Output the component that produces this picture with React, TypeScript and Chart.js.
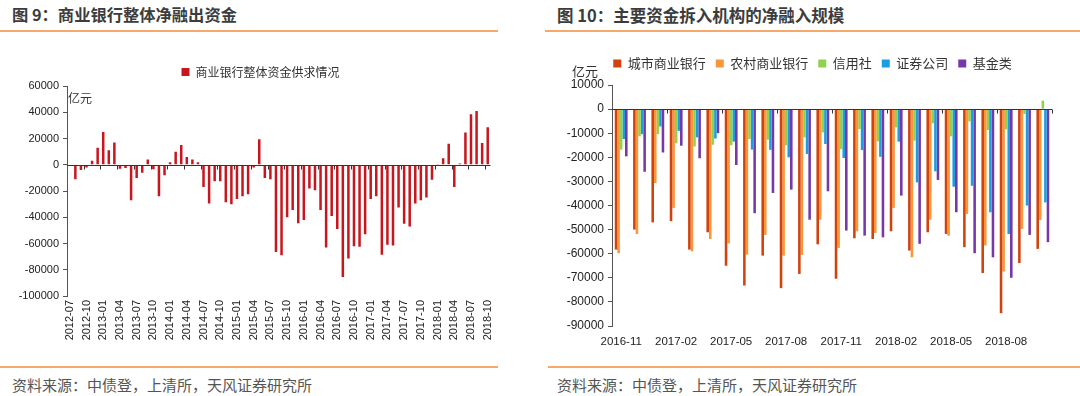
import React, { useEffect, useRef } from "react";
import { Chart, registerables } from "chart.js";
Chart.register(...registerables);

const CJK = "'Noto Sans CJK SC', 'Noto Sans', sans-serif";
const NUM = "'Liberation Sans', Arial, sans-serif";

// ---- Figure 9 data ----
const leftMonths = [
  "2012-07","2012-08","2012-09","2012-10","2012-11","2012-12",
  "2013-01","2013-02","2013-03","2013-04","2013-05","2013-06","2013-07","2013-08","2013-09","2013-10","2013-11","2013-12",
  "2014-01","2014-02","2014-03","2014-04","2014-05","2014-06","2014-07","2014-08","2014-09","2014-10","2014-11","2014-12",
  "2015-01","2015-02","2015-03","2015-04","2015-05","2015-06","2015-07","2015-08","2015-09","2015-10","2015-11","2015-12",
  "2016-01","2016-02","2016-03","2016-04","2016-05","2016-06","2016-07","2016-08","2016-09","2016-10","2016-11","2016-12",
  "2017-01","2017-02","2017-03","2017-04","2017-05","2017-06","2017-07","2017-08","2017-09","2017-10","2017-11","2017-12",
  "2018-01","2018-02","2018-03","2018-04","2018-05","2018-06","2018-07","2018-08","2018-09","2018-10",
];
const leftValues = [
  -1000, -11000, -4000, -2000, 3000, 13000,
  25000, 11000, 17000, -3000, -2500, -27000, -10000, -6000, 4000, -3500, -24000, -8000,
  2000, 10000, 15000, 6000, 4000, 2000, -17000, -29500, -12500, -12500, -28500, -30000,
  -26000, -24000, -22500, -2000, 19500, -10000, -11000, -66500, -69000, -40000, -34500, -44500,
  -42000, -18000, -19500, -34500, -63000, -39000, -49000, -85500, -71500, -62000, -62500, -53000,
  -26000, -24000, -68500, -61000, -61500, -32500, -45000, -47000, -29500, -27000, -25000, -11500,
  500, 5000, 16000, -17000, 1000, 24500, 38500, 41000, 16500, 28500,
];
const leftSeriesName = "商业银行整体资金供求情况";

// ---- Figure 10 data ----
const rightMonths = [
  "2016-11","2016-12","2017-01","2017-02","2017-03","2017-04","2017-05","2017-06","2017-07","2017-08","2017-09","2017-10",
  "2017-11","2017-12","2018-01","2018-02","2018-03","2018-04","2018-05","2018-06","2018-07","2018-08","2018-09","2018-10",
];
const cityBanks = [-58300,-50000,-47000,-46500,-58300,-51100,-65000,-73200,-60800,-74300,-68400,-56100,-70400,-53600,-53900,-50700,-58700,-51100,-51800,-57300,-68000,-84700,-63900,-58000];
const ruralBanks = [-59800,-51800,-30700,-41000,-59000,-53900,-55700,-60400,-52200,-60800,-60500,-45900,-57600,-50700,-51400,-41000,-61500,-45900,-52500,-43500,-56600,-67400,-49700,-46000];
const creditCoops = [-16800,-11300,-10400,-14200,-15500,-14800,-15000,-12400,-12700,-15000,-11700,-9700,-16600,-8300,-13400,-7600,-13100,-5900,-11300,-5100,-8700,-8400,-2000,3500];
const securities = [-12400,-10400,-7200,-9000,-11700,-12200,-13500,-16800,-16900,-20000,-18600,-14500,-20300,-17000,-19800,-13500,-30400,-25800,-32200,-31800,-42800,-51800,-40000,-38700];
const funds = [-19600,-26000,-18000,-15200,-20400,-10000,-23200,-43200,-34800,-33400,-45900,-34100,-50400,-52500,-53200,-35900,-55900,-29400,-42800,-59800,-61500,-70000,-52200,-55200];
const rightSeriesNames = ["城市商业银行", "农村商业银行", "信用社", "证券公司", "基金类"];
const rightColors = ["#D0430C", "#F7963B", "#92D050", "#1C9DE0", "#7538A6"];

const zeroAxis = (every: number) => ({
  id: "zeroAxis",
  afterDatasetsDraw(chart: any) {
    const x = chart.scales.x, y = chart.scales.y;
    const { ctx, chartArea } = chart;
    const zy = Math.round(y.getPixelForValue(0)) + 0.5;
    const n = chart.data.labels.length;
    const half = (x.getPixelForValue(1) - x.getPixelForValue(0)) / 2;
    ctx.save();
    ctx.strokeStyle = "#333";
    ctx.lineWidth = 1;
    ctx.beginPath();
    ctx.moveTo(chartArea.left, zy);
    ctx.lineTo(chartArea.right, zy);
    for (let i = every; i <= n; i += every) {
      const px = Math.round(x.getPixelForValue(i) - half) + 0.5;
      ctx.moveTo(px, zy);
      ctx.lineTo(px, zy + 4);
    }
    ctx.stroke();
    ctx.restore();
  },
});

const unitLabel = (text: string, dx: number, dy: number, size: number) => ({
  id: "unitLabel",
  afterDraw(chart: any) {
    const { ctx, chartArea } = chart;
    ctx.save();
    ctx.font = `${size}px ${CJK}`;
    ctx.fillStyle = "#333";
    ctx.textAlign = "left";
    ctx.textBaseline = "middle";
    ctx.fillText(text, chartArea.left + dx, chartArea.top + dy);
    ctx.restore();
  },
});

// moves the drawn legend by (dx, dy) without changing the layout
const legendShift = (dx: number, dy: number) => ({
  id: "legendShift",
  afterLayout(chart: any) {
    const lg = chart.legend;
    if (lg && !lg.__shifted) {
      const orig = lg.draw.bind(lg);
      lg.draw = (...args: any[]) => {
        chart.ctx.save();
        chart.ctx.translate(dx, dy);
        orig(...args);
        chart.ctx.restore();
      };
      lg.__shifted = true;
    }
  },
});

function LeftChart() {
  const ref = useRef<HTMLCanvasElement>(null);
  useEffect(() => {
    const chart = new Chart(ref.current!, {
      type: "bar",
      data: {
        labels: leftMonths,
        datasets: [
          {
            label: leftSeriesName,
            data: leftValues,
            backgroundColor: "#C8161E",
            borderWidth: 0,
            barPercentage: 0.45,
            categoryPercentage: 1,
          },
        ],
      },
      options: {
        responsive: false,
        animation: false,
        devicePixelRatio: 1,
        layout: { padding: { left: 0, right: 12, top: 8, bottom: 0 } },
        plugins: {
          legend: {
            display: true,
            position: "top",
            labels: { boxWidth: 8, boxHeight: 8, font: { family: CJK, size: 12 }, color: "#333", padding: 10 },
          },
          tooltip: { enabled: false },
        },
        scales: {
          x: {
            grid: { display: false, drawTicks: false },
            border: { display: false },
            ticks: {
              autoSkip: false,
              minRotation: 90,
              maxRotation: 90,
              padding: 4,
              font: { family: NUM, size: 11 },
              color: "#222",
              callback: (_v: any, i: number) => (i % 3 === 0 ? leftMonths[i] : ""),
            },
            afterFit: (s: any) => { s.height = 60; },
          },
          y: {
            min: -100000,
            max: 60000,
            ticks: { stepSize: 20000, font: { family: NUM, size: 11 }, color: "#222", padding: 4, callback: (v: any) => String(v) },
            grid: { drawOnChartArea: false, tickLength: 4, color: "#555" },
            border: { display: true, color: "#555" },
            afterFit: (s: any) => { s.width = 67; },
          },
        },
      } as any,
      plugins: [zeroAxis(3), unitLabel("亿元", 1, 12, 12), legendShift(14, 2)],
    });
    return () => chart.destroy();
  }, []);
  return <canvas ref={ref} width={505} height={310} style={{ position: "absolute", left: 0, top: 46 }} />;
}

function RightChart() {
  const ref = useRef<HTMLCanvasElement>(null);
  useEffect(() => {
    const series = [cityBanks, ruralBanks, creditCoops, securities, funds];
    const chart = new Chart(ref.current!, {
      type: "bar",
      data: {
        labels: rightMonths,
        datasets: series.map((d, k) => ({
          label: rightSeriesNames[k],
          data: d,
          backgroundColor: rightColors[k],
          borderWidth: 0,
          barPercentage: 1,
          categoryPercentage: 0.7,
        })),
      },
      options: {
        responsive: false,
        animation: false,
        devicePixelRatio: 1,
        layout: { padding: { left: 0, right: 28, top: 10, bottom: 0 } },
        plugins: {
          legend: {
            display: true,
            position: "top",
            labels: { boxWidth: 8, boxHeight: 8, font: { family: CJK, size: 13 }, color: "#333", padding: 10 },
          },
          tooltip: { enabled: false },
        },
        scales: {
          x: {
            grid: { display: false, drawTicks: false },
            border: { display: false },
            ticks: {
              autoSkip: false,
              maxRotation: 0,
              minRotation: 0,
              padding: 9,
              font: { family: NUM, size: 11.5 },
              color: "#222",
              callback: (_v: any, i: number) => (i % 3 === 0 ? rightMonths[i] : ""),
            },
            afterFit: (s: any) => { s.height = 26; },
          },
          y: {
            min: -90000,
            max: 10000,
            ticks: { stepSize: 10000, font: { family: NUM, size: 12 }, color: "#222", padding: 4, callback: (v: any) => String(v) },
            grid: { drawOnChartArea: false, tickLength: 4, color: "#555" },
            border: { display: true, color: "#555" },
            afterFit: (s: any) => { s.width = 67; },
          },
        },
      } as any,
      plugins: [zeroAxis(3), unitLabel("亿元", -40, -14, 13), legendShift(14, -5)],
    });
    return () => chart.destroy();
  }, []);
  return <canvas ref={ref} width={535} height={310} style={{ position: "absolute", left: 545, top: 42 }} />;
}

const titleStyle: React.CSSProperties = {
  position: "absolute",
  fontFamily: CJK,
  fontWeight: 700,
  color: "#3c3c3c",
  lineHeight: "20px",
  whiteSpace: "nowrap",
};
const footStyle: React.CSSProperties = {
  position: "absolute",
  fontFamily: CJK,
  fontSize: 15,
  color: "#555",
  lineHeight: "20px",
  whiteSpace: "nowrap",
};
const lineStyle = (left: number, width: number, top: number): React.CSSProperties => ({
  position: "absolute",
  left,
  width,
  top,
  height: 2,
  background: "#F5A869",
});

export default function App() {
  return (
    <div style={{ position: "fixed", left: 0, top: 0, width: 1080, height: 396, background: "#fff", overflow: "hidden" }}>
      <div style={{ ...titleStyle, left: 12, top: 4, fontSize: 16.3 }}>图 9：商业银行整体净融出资金</div>
      <div style={{ ...titleStyle, left: 557, top: 5, fontSize: 16.5 }}>图 10：主要资金拆入机构的净融入规模</div>
      <div style={lineStyle(0, 498, 30)} />
      <div style={lineStyle(545, 535, 30)} />
      <LeftChart />
      <RightChart />
      <div style={lineStyle(0, 498, 366)} />
      <div style={lineStyle(548, 532, 366)} />
      <div style={{ ...footStyle, left: 12, top: 375 }}>资料来源：中债登，上清所，天风证券研究所</div>
      <div style={{ ...footStyle, left: 557, top: 375 }}>资料来源：中债登，上清所，天风证券研究所</div>
    </div>
  );
}
